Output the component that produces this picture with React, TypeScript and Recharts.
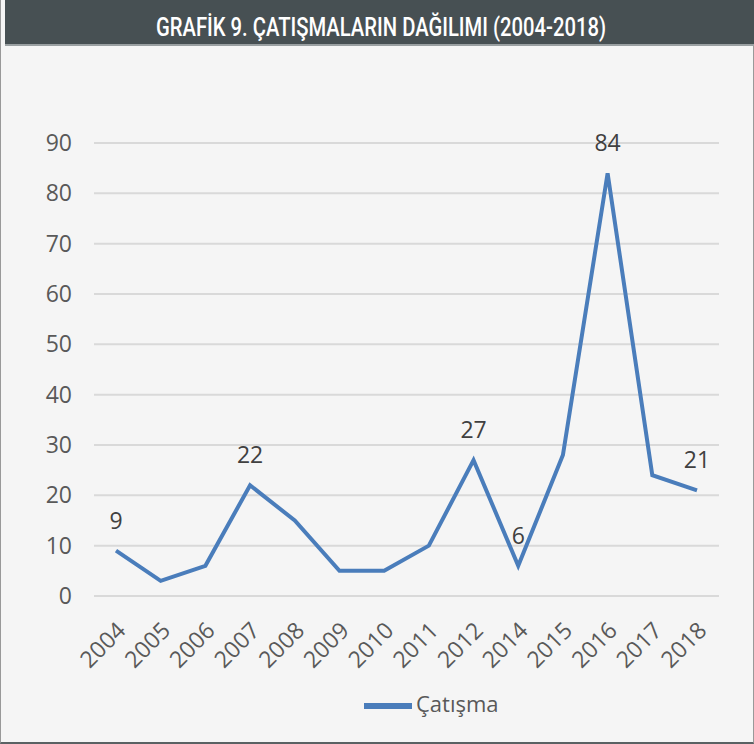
import React from 'react';
import { LineChart, Line, XAxis, YAxis, CartesianGrid, Legend, LabelList } from 'recharts';

const years = ['2004', '2005', '2006', '2007', '2008', '2009', '2010', '2011', '2012', '2014', '2015', '2016', '2017', '2018'];
const conflicts = [9, 3, 6, 22, 15, 5, 5, 10, 27, 6, 28, 84, 24, 21];
const labelledYears = ['2004', '2007', '2012', '2014', '2016', '2018'];
const yTicks = [0, 10, 20, 30, 40, 50, 60, 70, 80, 90];

const chartData = years.map((year, i) => ({ year, value: conflicts[i] }));

const FONT = '"Open Sans", sans-serif';

const YearTick = (props: any) => {
  const { x, y, payload } = props;
  return (
    <text
      transform={`translate(${x + 11},${y + 34}) rotate(-45)`}
      textAnchor="end"
      fill="#595959"
      fontSize={23}
      fontFamily={FONT}
    >
      {payload.value}
    </text>
  );
};

const ValueLabel = (props: any) => {
  const { x, y, value, index } = props;
  if (!labelledYears.includes(years[index])) return null;
  return (
    <text x={x} y={y - 22} textAnchor="middle" fill="#404040" fontSize={23} fontFamily={FONT}>
      {value}
    </text>
  );
};

export default function App() {
  return (
    <div
      style={{
        position: 'absolute',
        left: 0,
        top: 0,
        width: 754,
        height: 744,
        background: '#f5f5f5',
        boxSizing: 'border-box',
        borderLeft: '1px solid #999',
        borderRight: '1px solid #999',
        borderBottom: '2px solid #5a6163',
      }}
    >
      <svg
        width={750}
        height={46}
        style={{ position: 'absolute', left: 4, top: 0, display: 'block' }}
      >
        <rect x={0} y={0} width={750} height={44} fill="#475053" />
        <rect x={0} y={44} width={750} height={2} fill="#9aa0a2" />
        <text
          x={376}
          y={36}
          textAnchor="middle"
          fill="#ffffff"
          fontFamily="Roboto, sans-serif"
          fontWeight={500}
          fontSize={26}
          textLength={450}
          lengthAdjust="spacingAndGlyphs"
        >
          GRAFİK 9. ÇATIŞMALARIN DAĞILIMI (2004-2018)
        </text>
      </svg>
      <div style={{ position: 'absolute', left: -1, top: 0 }}>
        <LineChart
          width={754}
          height={744}
          data={chartData}
          margin={{ top: 143, right: 35, bottom: 14, left: 0 }}
        >
          <CartesianGrid vertical={false} stroke="#d9d9d9" strokeWidth={2} />
          <XAxis
            dataKey="year"
            axisLine={false}
            tickLine={false}
            tickSize={0}
            interval={0}
            height={86}
            padding={{ left: 22, right: 22 }}
            tick={<YearTick />}
          />
          <YAxis
            domain={[0, 90]}
            ticks={yTicks}
            width={94}
            axisLine={false}
            tickLine={false}
            tickSize={0}
            tickMargin={22}
            tick={{ fill: '#595959', fontSize: 23, fontFamily: FONT }}
          />
          <Legend
            verticalAlign="bottom"
            align="left"
            iconType="plainline"
            iconSize={48}
            wrapperStyle={{ fontFamily: FONT, fontSize: 22, left: 364, width: 220 }}
            formatter={(v: string) => <span style={{ color: '#595959' }}>{v}</span>}
          />
          <Line
            type="linear"
            dataKey="value"
            name="Çatışma"
            stroke="#4a7dbb"
            strokeWidth={4}
            dot={false}
            isAnimationActive={false}
          >
            <LabelList dataKey="value" content={<ValueLabel />} />
          </Line>
        </LineChart>
      </div>
    </div>
  );
}
